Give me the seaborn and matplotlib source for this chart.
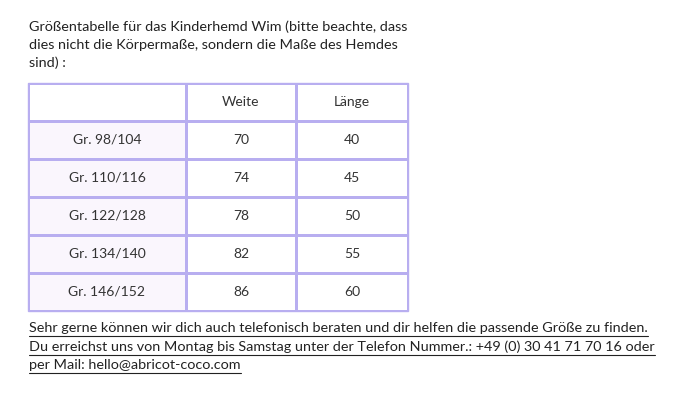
import numpy as np
import matplotlib
matplotlib.use("Agg")
import matplotlib.pyplot as plt
from matplotlib.colors import ListedColormap
import seaborn as sns

# table data
sizes = ["Gr. 98/104", "Gr. 110/116", "Gr. 122/128", "Gr. 134/140", "Gr. 146/152"]
weite = [70, 74, 78, 82, 86]
laenge = [40, 45, 50, 55, 60]
headers = ["", "Weite", "Länge"]

intro = ["Größentabelle für das Kinderhemd Wim (bitte beachte, dass",
         "dies nicht die Körpermaße, sondern die Maße des Hemdes",
         "sind) :"]
footer = ["Sehr gerne können wir dich auch telefonisch beraten und dir helfen die passende Größe zu finden.",
          "Du erreichst uns von Montag bis Samstag unter der Telefon Nummer.: +49 (0) 30 41 71 70 16 oder",
          "per Mail: hello@abricot-coco.com"]

sns.set_theme(style="white", font="Lato")
W, H = 674, 417
fig = plt.figure(figsize=(W / 100, H / 100), dpi=100)
border = "#b8aef0"
FS = 10.4

# table grid: 1 = shaded first column, 0 = white
cells = [headers] + [[s, str(w), str(l)] for s, w, l in zip(sizes, weite, laenge)]
shade = np.zeros((len(cells), 3))
shade[1:, 0] = 1
ax = fig.add_axes([28 / W, 1 - 311 / H, 380 / W, 228 / H])
xedges = [0, 158, 268, 380]
yedges = np.arange(len(cells) + 1) * 38
ax.pcolormesh(xedges, yedges, shade, cmap=ListedColormap(["white", "#faf6fd"]),
              edgecolors=border, linewidth=0.8)
for i, row in enumerate(cells):
    for j, txt in enumerate(row):
        ax.text((xedges[j] + xedges[j + 1]) / 2, yedges[i] + 19, txt, ha="center",
                va="center", fontsize=FS - 0.4, color="#333333")
ax.set_xlim(0, 380)
ax.set_ylim(yedges[-1], 0)
ax.axis("off")
ax.add_patch(plt.Rectangle((0, 0), 380, yedges[-1], fill=False, edgecolor=border,
                           lw=1, clip_on=False))

for k, line in enumerate(intro):
    fig.text(29 / W, 1 - (27 + 18 * k) / H, line, ha="left", va="center",
             fontsize=FS, color="#222222")

fig.canvas.draw()
r = fig.canvas.get_renderer()
for k, line in enumerate(footer):
    y = 1 - (328 + 18.5 * k) / H
    t = fig.text(29 / W, y, line, ha="left", va="center", fontsize=FS, color="#222222")
    bb = t.get_window_extent(r)
    uy = 1 - (336 + 18.5 * k) / H
    fig.add_artist(plt.Line2D([bb.x0 / W, bb.x1 / W], [uy, uy], color="#222222", lw=0.8))

fig.savefig("out.png", dpi=100)
